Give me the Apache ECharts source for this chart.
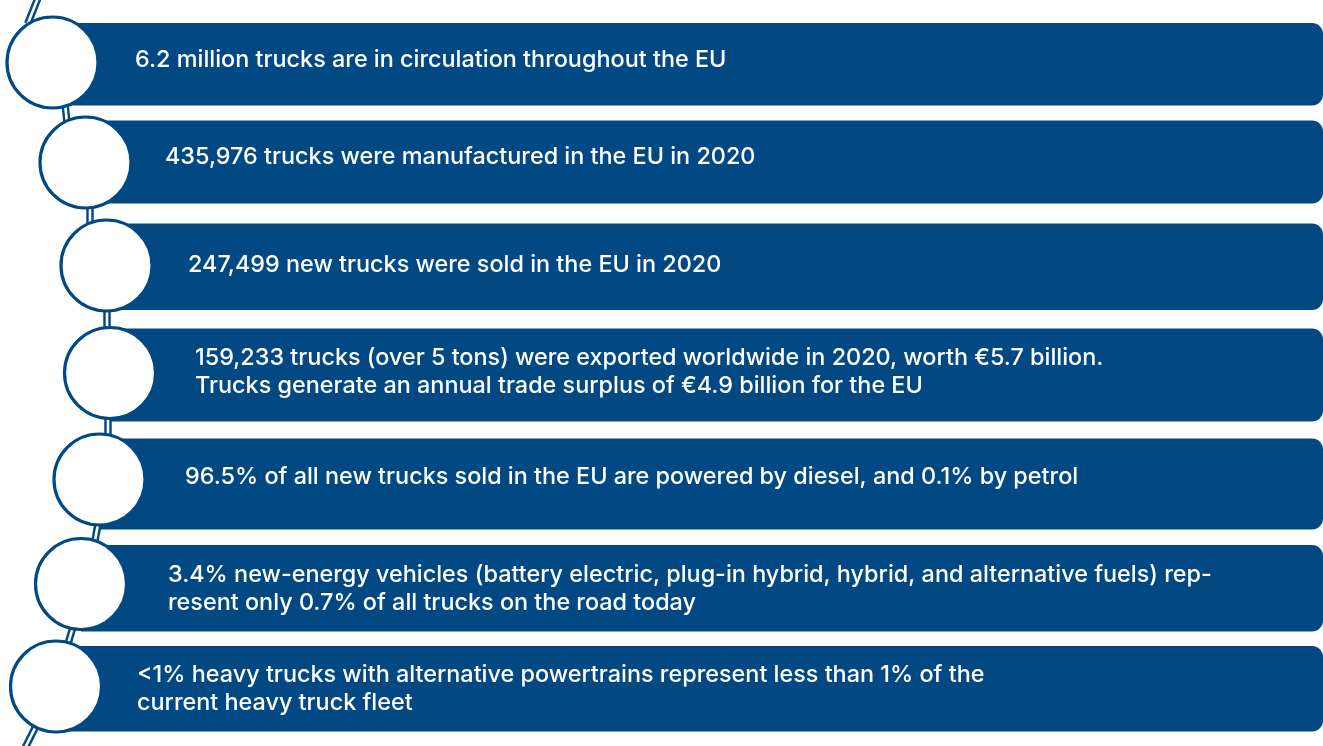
<!DOCTYPE html>
<html><head><meta charset="utf-8">
<script src="https://cdn.jsdelivr.net/npm/echarts@6/dist/echarts.min.js"></script>
<style>html,body{margin:0;padding:0;background:#fff}#c{width:1323px;height:746px}</style>
</head><body><div id="c"></div>
<script>
// Statements (the chart's content)
const statements = [
  "6.2 million trucks are in circulation throughout the EU",
  "435,976 trucks were manufactured in the EU in 2020",
  "247,499 new trucks were sold in the EU in 2020",
  "159,233 trucks (over 5 tons) were exported worldwide in 2020, worth \u20ac5.7 billion.\nTrucks generate an annual trade surplus of \u20ac4.9 billion for the EU",
  "96.5% of all new trucks sold in the EU are powered by diesel, and 0.1% by petrol",
  "3.4% new-energy vehicles (battery electric, plug-in hybrid, hybrid, and alternative fuels) rep-\nresent only 0.7% of all trucks on the road today",
  "<1% heavy trucks with alternative powertrains represent less than 1% of the\ncurrent heavy truck fleet"
];

// Layout (in axis units = pixels of the hidden value axes)
const barTop    = [23, 120.5, 223.5, 328.5, 438.5, 545, 646];
const barBottom = [105.5, 203.5, 310, 421.5, 529.5, 631.5, 731.5];
const barRight  = 1323;
const circleX   = [52.5, 85.5, 106.5, 110, 99.5, 81, 56];
const circleY   = [62.5, 162.5, 265.5, 373, 479.5, 584, 686.5];
const textX     = [135, 165, 188, 195, 185, 168, 137];
const textY     = [60, 157, 265, 372, 477, 588.5, 689];
// connector segments: midpoint x, midpoint y, slope dx/dy
const linkX     = [34, 66, 90, 107, 108, 96, 70, 29];
const linkY     = [8, 113, 215, 318, 427, 535, 637, 740];
const linkSlope = [-0.4, 0.1, 0, 0, 0, -0.18, -0.3, -0.5];

const BLUE = '#024984';
const chart = echarts.init(document.getElementById('c'), null, {renderer: 'canvas'});
const idx = statements.map((_, i) => [i]);
const linkIdx = linkX.map((_, i) => [i]);

chart.setOption({
  animation: false,
  grid: {left: 0, right: 0, top: 0, bottom: 0},
  xAxis: {type: 'value', min: 0, max: 1323, show: false},
  yAxis: {type: 'value', min: 0, max: 746, inverse: true, show: false},
  series: [
    {
      type: 'custom', z: 1, clip: false, data: idx,
      renderItem: function (params, api) {
        const i = api.value(0);
        const p0 = api.coord([circleX[i], barTop[i]]);
        const p1 = api.coord([barRight, barBottom[i]]);
        const t = api.coord([textX[i], textY[i]]);
        return {
          type: 'group',
          children: [
            {type: 'rect', shape: {x: p0[0], y: p0[1], width: p1[0] - p0[0], height: p1[1] - p0[1], r: [0, 11, 11, 0]},
             style: {fill: BLUE}},
            {type: 'text', z2: 10, style: {text: statements[i], x: t[0], y: t[1], fill: '#ffffff',
              fontFamily: 'Inter', fontWeight: 500, fontSize: 23.4, lineHeight: 28,
              verticalAlign: 'middle', align: 'left'}}
          ]
        };
      }
    },
    {
      type: 'custom', z: 2, clip: false, data: linkIdx,
      renderItem: function (params, api) {
        const i = api.value(0);
        const d = 16;
        const a = api.coord([linkX[i] - linkSlope[i] * d, linkY[i] - d]);
        const b = api.coord([linkX[i] + linkSlope[i] * d, linkY[i] + d]);
        return {
          type: 'group',
          children: [
            {type: 'line', shape: {x1: a[0], y1: a[1], x2: b[0], y2: b[1]}, style: {stroke: BLUE, lineWidth: 7.5}},
            {type: 'line', shape: {x1: a[0], y1: a[1], x2: b[0], y2: b[1]}, style: {stroke: '#ffffff', lineWidth: 2.6}}
          ]
        };
      }
    },
    {
      type: 'custom', z: 3, clip: false, data: idx,
      renderItem: function (params, api) {
        const i = api.value(0);
        const c = api.coord([circleX[i], circleY[i]]);
        return {type: 'circle', shape: {cx: c[0], cy: c[1], r: 45.5},
                style: {fill: '#ffffff', stroke: BLUE, lineWidth: 3.2}};
      }
    }
  ]
});
</script></body></html>
